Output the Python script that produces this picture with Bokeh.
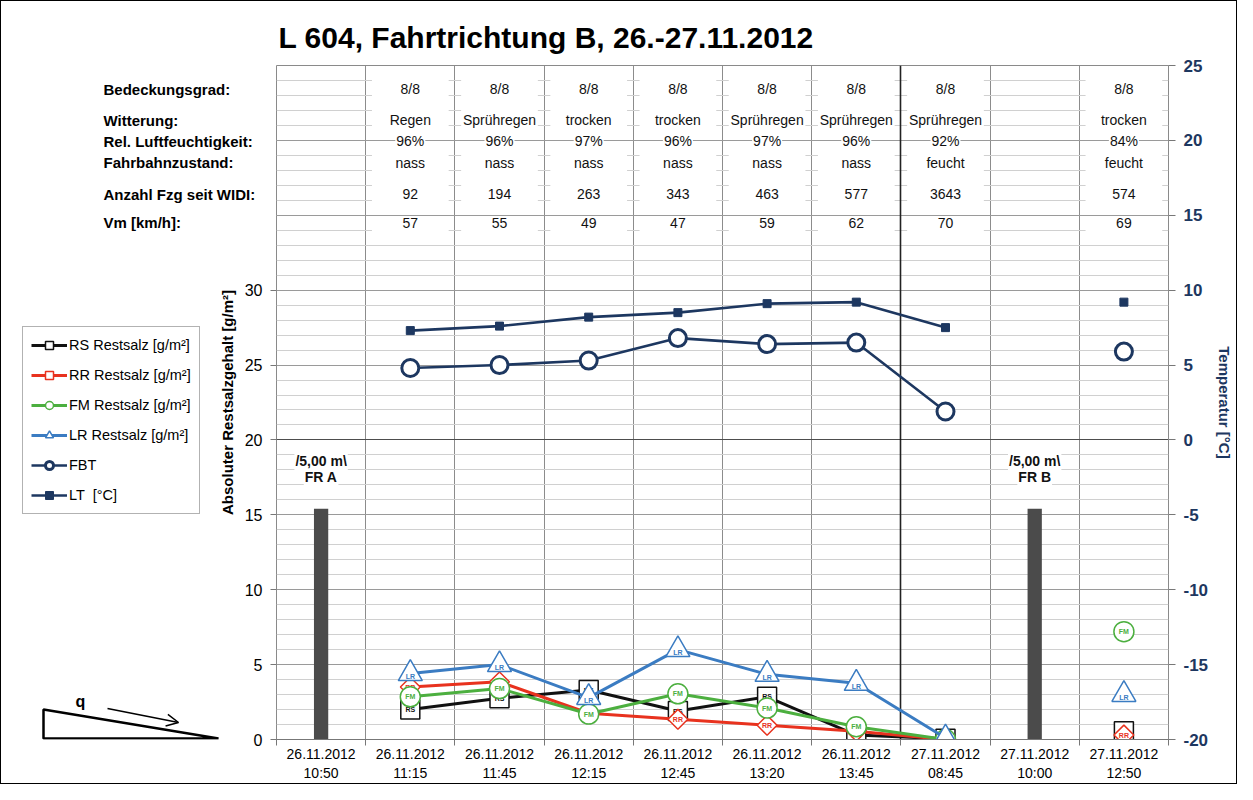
import math
from bokeh.plotting import figure
from bokeh.layouts import row
from bokeh.models import (Range1d, LinearAxis, FixedTicker, SingleIntervalTicker, Legend, LegendItem,
                          Label, PolyAnnotation, Arrow, OpenHead)
from bokeh.core.properties import value
from bokeh.embed import file_html
from bokeh.resources import INLINE

nan = float("nan")

# ---------------- data ----------------
dates = ["26.11.2012"] * 7 + ["27.11.2012"] * 3
times = ["10:50", "11:15", "11:45", "12:15", "12:45", "13:20", "13:45", "08:45", "10:00", "12:50"]

row_names = ["Bedeckungsgrad:", "Witterung:", "Rel. Luftfeuchtigkeit:", "Fahrbahnzustand:",
             "Anzahl Fzg seit WIDI:", "Vm [km/h]:"]
bedeckung = ["", "8/8", "8/8", "8/8", "8/8", "8/8", "8/8", "8/8", "", "8/8"]
witterung = ["", "Regen", "Sprühregen", "trocken", "trocken", "Sprühregen", "Sprühregen", "Sprühregen", "", "trocken"]
feuchte = ["", "96%", "96%", "97%", "96%", "97%", "96%", "92%", "", "84%"]
fahrbahn = ["", "nass", "nass", "nass", "nass", "nass", "nass", "feucht", "", "feucht"]
anzahl = ["", "92", "194", "263", "343", "463", "577", "3643", "", "574"]
vm = ["", "57", "55", "49", "47", "59", "62", "70", "", "69"]

rs = [nan, 2.0, 2.75, 3.3, 1.9, 2.85, 0.3, 0.05, nan, 0.55]
rr = [nan, 3.5, 3.85, 1.75, 1.35, 0.95, 0.55, 0.0, nan, 0.3]
fm = [nan, 2.85, 3.4, 1.7, 3.05, 2.1, 0.85, 0.0, nan, 7.2]
lr = [nan, 4.4, 5.0, 2.8, 6.0, 4.35, 3.75, 0.1, nan, 3.0]
fbt = [nan, 4.8, 5.0, 5.3, 6.8, 6.4, 6.5, 1.9, nan, 5.9]
lt = [nan, 7.3, 7.6, 8.2, 8.5, 9.1, 9.2, 7.5, nan, 9.2]

bar_times = ["10:50", "10:00"]
bar_heights = [15.4, 15.4]
bar_line1 = ["/5,00 m\\", "/5,00 m\\"]
bar_line2 = ["FR A", "FR B"]

left_ticks = [0, 5, 10, 15, 20, 25, 30]
right_ticks = [-20, -15, -10, -5, 0, 5, 10, 15, 20, 25]

title_text = "L 604, Fahrtrichtung B, 26.-27.11.2012"

# ---------------- layout constants ----------------
FONT = "Liberation Sans"
NAVY = "#1d3760"
BW = 1                      # outer border width
H = 784 - 2 * BW            # figure height
TOP, BOTTOM = 64, 43        # borders above / below the frame
QW = 272                    # width of the left panel figure
OVER = 58                   # main figure overlaps the left panel by this much
n = len(times)
xs = [i + 0.5 for i in range(n)]
bounds = list(range(1, n))
row_y = [43.4, 41.35, 39.95, 38.5, 36.4, 34.5]
Y0, Y1 = 0, 45
FRAME_BOTTOM = BW + H - BOTTOM   # page y of the frame's bottom edge
SHIFT = 743 - FRAME_BOTTOM       # reference frame bottom vs ours


def sx(px):  # page x -> left-panel screen x
    return px - BW


def sy(py):  # reference page y -> left-panel screen y (from frame bottom)
    return FRAME_BOTTOM - (py - SHIFT)


p = figure(width=1237 - 2 * BW - QW + OVER, height=H, x_range=Range1d(0, n),
           y_range=Range1d(Y0, Y1), output_backend="svg", toolbar_location=None,
           min_border_left=OVER, min_border_right=64, min_border_top=TOP,
           min_border_bottom=BOTTOM)
p.margin = (0, 0, 0, -OVER)
p.extra_y_ranges = {"temp": Range1d(-20, 25)}
p.background_fill_color = "white"
p.border_fill_color = None
p.outline_line_color = "#8a8a8a"

p.title.text = title_text
p.title.text_font = FONT
p.title.text_font_style = "bold"
p.title.text_font_size = "30px"
p.title.text_color = "black"
p.title.offset = 2
p.title.standoff = 23

# x axis
xa = p.xaxis[0]
xa.ticker = FixedTicker(ticks=xs, minor_ticks=[0] + bounds + [n])
xa.major_label_overrides = {x: f"{d}\n{t}" for x, d, t in zip(xs, dates, times)}
xa.major_tick_out = 0
xa.major_tick_in = 0
xa.minor_tick_out = 6
xa.minor_tick_in = 0
xa.minor_tick_line_color = "#777777"
xa.axis_line_color = "#777777"
xa.major_label_text_font = FONT
xa.major_label_text_font_size = "14px"
xa.major_label_text_color = "black"
xa.major_label_standoff = 0

# left axis
ya = p.yaxis[0]
ya.ticker = FixedTicker(ticks=left_ticks)
ya.axis_line_color = None
ya.major_tick_out = 6
ya.major_tick_in = 0
ya.major_tick_line_color = "#777777"
ya.minor_tick_line_color = None
ya.major_label_text_font = FONT
ya.major_label_text_font_size = "16px"
ya.major_label_text_color = "black"
ya.major_label_standoff = 8
ya.axis_label = "Absoluter Restsalzgehalt [g/m²]"
ya.axis_label_text_font = FONT
ya.axis_label_text_font_style = "bold"
ya.axis_label_text_font_size = "15px"
ya.axis_label_text_color = "black"
ya.axis_label_standoff = 6

# right axis
ra = LinearAxis(y_range_name="temp", ticker=FixedTicker(ticks=right_ticks))
ra.major_label_overrides = {t: str(t) for t in right_ticks}
ra.axis_line_color = None
ra.major_tick_out = 7
ra.major_tick_in = 0
ra.major_tick_line_color = "#777777"
ra.minor_tick_line_color = None
ra.major_label_text_font = FONT
ra.major_label_text_font_style = "bold"
ra.major_label_text_font_size = "17px"
ra.major_label_text_color = NAVY
ra.major_label_standoff = 8
ra.axis_label = "Temperatur [°C]"
ra.axis_label_text_font = FONT
ra.axis_label_text_font_style = "bold"
ra.axis_label_text_font_size = "15px"
ra.axis_label_text_color = NAVY
ra.axis_label_standoff = 5
p.add_layout(ra, "right")

# grids
p.xgrid.ticker = FixedTicker(ticks=bounds)
p.xgrid.grid_line_color = "#8c8c8c"
p.ygrid.ticker = SingleIntervalTicker(interval=5, num_minor_ticks=5)
p.ygrid.grid_line_color = "#9a9a9a"
p.ygrid.minor_grid_line_color = "#d0d0d0"

# table boxes (white) in columns with data
table_rows = [bedeckung, witterung, feuchte, fahrbahn, anzahl, vm]
box_cols = [i for i in range(n) if any(r[i] for r in table_rows)]
p.quad(left=[i + 0.07 for i in box_cols], right=[i + 0.93 for i in box_cols],
       bottom=33.4, top=44.7, fill_color="white", line_color=None)
p.hspan(y=[35, 40], line_color="#9a9a9a", line_width=1)

# dark separator between days
p.vspan(x=[times.index("13:45") + 1], line_color="#222222", line_width=1.6)

# zero line of temperature axis
p.hspan(y=[0], y_range_name="temp", line_color="black", line_width=1, line_dash="1 1")

# table texts
for ry, vals in zip(row_y, table_rows):
    idx = [i for i in range(n) if vals[i]]
    p.text(x=[xs[i] for i in idx], y=[ry] * len(idx), text=[vals[i] for i in idx],
           text_align="center", text_baseline="middle", text_font=value(FONT),
           text_font_size="14px", text_color="#111111",
           background_fill_color="white", padding=1)

# bars (position markers)
bx = [xs[times.index(t)] for t in bar_times]
p.vbar(x=bx, top=bar_heights, width=0.16, bottom=0, fill_color="#4b4b4b", line_color=None)
for ty, txt in ((18.6, bar_line1), (17.5, bar_line2)):
    p.text(x=bx, y=ty, text=txt, text_align="center", text_baseline="middle",
           text_font=value(FONT), text_font_style="bold", text_font_size="14px",
           text_color="#111111", background_fill_color="white", padding=1)

# temperature series
lt_style = dict(line_color=NAVY, line_width=2.6)
lt_mk = dict(marker="square", size=8, fill_color=NAVY, line_color=NAVY)
fbt_style = dict(line_color=NAVY, line_width=2.6)
fbt_mk = dict(marker="circle", size=17, fill_color="white", line_color=NAVY, line_width=3)
p.line(xs, lt, y_range_name="temp", **lt_style)
p.scatter(xs, lt, y_range_name="temp", **lt_mk)
p.line(xs, fbt, y_range_name="temp", **fbt_style)
p.scatter(xs, fbt, y_range_name="temp", **fbt_mk)

# salt series
salt = [
    ("RS", rs, "#111111", "square", 19, 0.0, 0),
    ("RR", rr, "#e8321e", "square", 14, math.pi / 4, 0),
    ("FM", fm, "#4caf3f", "circle", 20, 0.0, 0),
    ("LR", lr, "#3b7cc2", "triangle", 24, 0.0, 3),
]
for code, vals, col, mk, sz, ang, yoff in salt:
    p.line(xs, vals, line_color=col, line_width=3)
    p.scatter(xs, vals, marker=mk, size=sz, angle=ang, fill_color="white",
              line_color=col, line_width=1.5)
    idx = [i for i in range(n) if not math.isnan(vals[i])]
    p.text(x=[xs[i] for i in idx], y=[vals[i] for i in idx], text=[code] * len(idx),
           text_align="center", text_baseline="middle", y_offset=yoff,
           text_font=value(FONT), text_font_style="bold", text_font_size="7px", text_color=col)

# ---------------- left panel figure (row labels, legend, sketch) ----------------
# frames of plots in a row are aligned, so this panel uses the same top/bottom borders
q = figure(width=QW, height=H, x_range=Range1d(0, QW), y_range=Range1d(Y0, Y1),
           output_backend="svg", toolbar_location=None, x_axis_location=None,
           y_axis_location=None, min_border_left=0, min_border_right=0,
           min_border_top=TOP, min_border_bottom=BOTTOM)
q.grid.visible = False
q.outline_line_color = None
q.background_fill_color = "white"
q.border_fill_color = "white"

for ry, name in zip(row_y, row_names):
    q.add_layout(Label(x=sx(103), y=ry, text=name, text_font=FONT, text_font_style="bold",
                       text_font_size="15px", text_baseline="middle", text_color="black"))

items = []
for code, vals, col, mk, sz, ang, yoff in salt:
    l1 = q.line([nan], [nan], line_color=col, line_width=3)
    m1 = q.scatter([nan], [nan], marker=mk, size=sz, angle=ang, fill_color="white",
                   line_color=col, line_width=1.5)
    items.append(LegendItem(label=f"{code} Restsalz [g/m²]", renderers=[l1, m1]))
l1 = q.line([nan], [nan], **fbt_style)
m1 = q.scatter([nan], [nan], **fbt_mk)
items.append(LegendItem(label="FBT", renderers=[l1, m1]))
l1 = q.line([nan], [nan], **lt_style)
m1 = q.scatter([nan], [nan], **lt_mk)
items.append(LegendItem(label="LT  [°C]", renderers=[l1, m1]))

legend = Legend(items=items, location=(sx(22), sy(518)))
legend.label_text_font = FONT
legend.label_text_font_size = "14.5px"
legend.label_text_color = "black"
legend.glyph_width = 36
legend.glyph_height = 20
legend.label_height = 20
legend.label_standoff = 2
legend.spacing = 10
legend.padding = 8
legend.margin = 0
legend.border_line_color = "#666666"
legend.border_line_width = 1
legend.background_fill_color = "white"
q.add_layout(legend)

# slope sketch
q.add_layout(PolyAnnotation(xs=[sx(43), sx(43), sx(218)], ys=[sy(713), sy(742), sy(742)],
                            xs_units="screen", ys_units="screen", fill_alpha=0,
                            line_color="black", line_alpha=1, line_width=2.5))
q.add_layout(Arrow(x_start=sx(107), y_start=sy(712), x_end=sx(178), y_end=sy(726),
                   start_units="screen", end_units="screen", line_color="black", line_width=1.5,
                   end=OpenHead(size=12, line_color="black", line_width=1.5)))
q.add_layout(Label(x=sx(80), x_units="screen", y=sy(705), y_units="screen", text="q",
                   text_font=FONT, text_font_style="bold", text_font_size="16px",
                   text_baseline="middle", text_align="center", text_color="black"))

layout = row(q, p, spacing=0, styles={"border": f"{BW}px solid black"})

open("out.html", "w").write(file_html(layout, INLINE))
